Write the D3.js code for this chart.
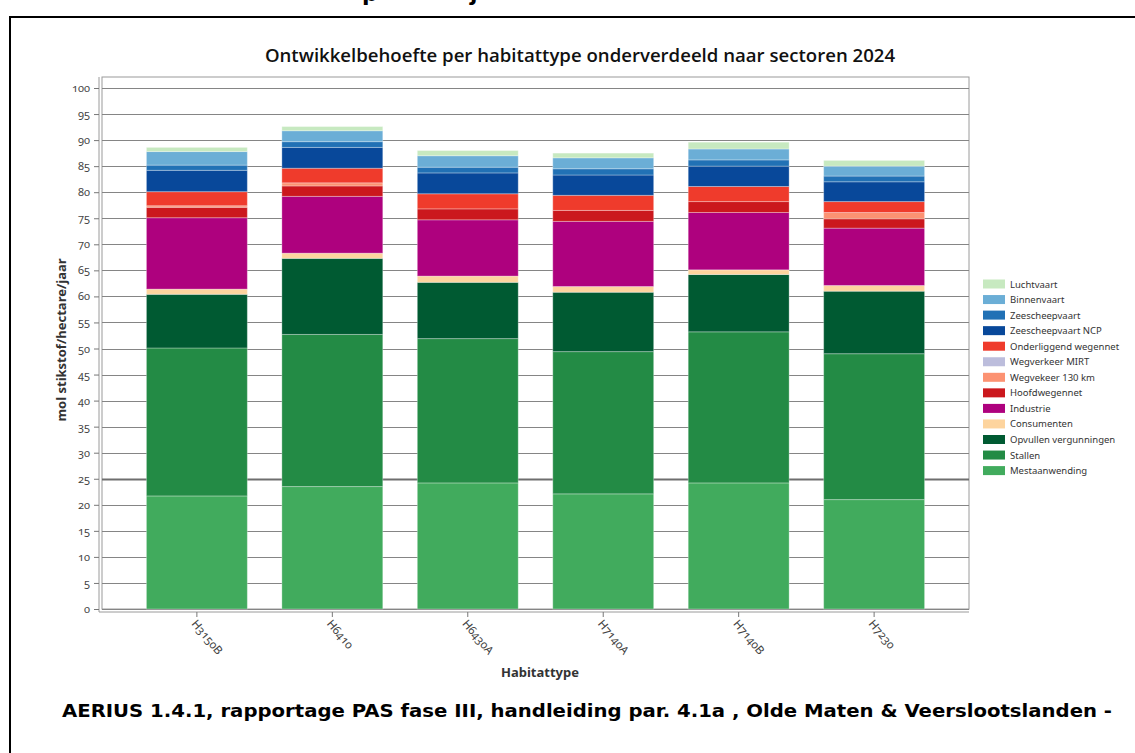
<!DOCTYPE html>
<html>
<head>
<meta charset="utf-8">
<script src="https://cdn.jsdelivr.net/npm/d3@7"></script>
<style>
  body { margin: 0; background: #fff; }
  svg { display: block; }
  .num { font-variant-numeric: oldstyle-nums; }
</style>
</head>
<body>
<svg id="chart" width="1135" height="753"></svg>
<script>
// Habitat types (x categories)
const categories = ["H3150B", "H6410", "H6430A", "H7140A", "H7140B", "H7230"];

// Deposition per sector, mol N/ha/yr, bottom of the stack first
const mestaanwending       = [21.7, 23.5, 24.2, 22.1, 24.2, 21.0];
const stallen              = [28.4, 29.2, 27.7, 27.3, 29.0, 28.0];
const opvullenVergunningen = [10.3, 14.6, 10.8, 11.4, 11.0, 12.0];
const consumenten          = [1.0, 1.0, 1.2, 1.1, 0.9, 1.1];
const industrie            = [13.7, 10.9, 10.8, 12.5, 11.0, 11.0];
const hoofdwegennet        = [2.0, 2.0, 2.1, 2.1, 2.1, 1.8];
const wegverkeer130        = [0.3, 0.6, 0.0, 0.0, 0.0, 1.2];
const wegverkeerMirt       = [0.0, 0.0, 0.0, 0.0, 0.0, 0.0];
const onderliggendWegennet = [2.7, 2.8, 2.9, 2.9, 2.9, 2.1];
const zeescheepvaartNcp    = [4.1, 4.0, 4.0, 3.9, 3.9, 3.8];
const zeescheepvaart       = [1.0, 1.1, 1.1, 1.2, 1.2, 1.1];
const binnenvaart          = [2.6, 2.1, 2.2, 2.1, 2.1, 1.9];
const luchtvaart           = [0.8, 0.8, 1.0, 0.9, 1.3, 1.1];

// Y axis tick values
const yTicks = [0, 5, 10, 15, 20, 25, 30, 35, 40, 45, 50, 55, 60, 65, 70, 75, 80, 85, 90, 95, 100];

const series = [
  { key: "Mestaanwending",        values: mestaanwending,       color: "#41ab5d" },
  { key: "Stallen",               values: stallen,              color: "#238b45" },
  { key: "Opvullen vergunningen", values: opvullenVergunningen, color: "#005a32" },
  { key: "Consumenten",           values: consumenten,          color: "#fdd49e" },
  { key: "Industrie",             values: industrie,            color: "#ae017e" },
  { key: "Hoofdwegennet",         values: hoofdwegennet,        color: "#cb181d" },
  { key: "Wegvekeer 130 km",      values: wegverkeer130,        color: "#fc9272" },
  { key: "Wegverkeer MIRT",       values: wegverkeerMirt,       color: "#bcbddc" },
  { key: "Onderliggend wegennet", values: onderliggendWegennet, color: "#ef3b2c" },
  { key: "Zeescheepvaart NCP",    values: zeescheepvaartNcp,    color: "#08489a" },
  { key: "Zeescheepvaart",        values: zeescheepvaart,       color: "#2171b5" },
  { key: "Binnenvaart",           values: binnenvaart,          color: "#6baed6" },
  { key: "Luchtvaart",            values: luchtvaart,           color: "#c7e9c0" }
];

const rows = categories.map((c, i) => {
  const r = { cat: c };
  series.forEach(s => { r[s.key] = s.values[i]; });
  return r;
});

const svg = d3.select("#chart");
const FONT = "'Noto Sans', 'Open Sans', sans-serif";

// Page frame
svg.append("line").attr("x1", 10).attr("x2", 1135).attr("y1", 17).attr("y2", 17)
  .attr("stroke", "#000").attr("stroke-width", 2);
svg.append("line").attr("x1", 10).attr("x2", 10).attr("y1", 16).attr("y2", 753)
  .attr("stroke", "#000").attr("stroke-width", 2);

// Descenders of the document heading above the frame
svg.append("text").attr("x", 362).attr("y", 1).text("p")
  .attr("font-family", "'DejaVu Sans', sans-serif").attr("font-weight", "bold").attr("font-size", 22);
svg.append("text").attr("x", 470).attr("y", 1).text("j")
  .attr("font-family", "'DejaVu Sans', sans-serif").attr("font-weight", "bold").attr("font-size", 22);

// Plot geometry
const plot = { left: 102, right: 969, top: 77, bottom: 609 };

const x = d3.scaleBand().domain(categories)
  .range([plot.left, plot.right]).paddingInner(0.255).paddingOuter(0.328);
const y = d3.scaleLinear().domain([0, 100]).range([plot.bottom, 88]);

// Chart title
svg.append("text").attr("x", 580).attr("y", 62).attr("text-anchor", "middle")
  .attr("font-family", "'Open Sans', sans-serif").attr("font-weight", 600).attr("font-size", 18.6)
  .attr("fill", "#111")
  .text("Ontwikkelbehoefte per habitattype onderverdeeld naar sectoren 2024");

// Plot box
svg.append("rect").attr("x", plot.left).attr("y", plot.top)
  .attr("width", plot.right - plot.left).attr("height", plot.bottom - plot.top)
  .attr("fill", "none").attr("stroke", "#9a9a9a").attr("stroke-width", 1);

// Horizontal gridlines
svg.append("g").selectAll("line").data(yTicks).join("line")
  .attr("x1", plot.left).attr("x2", plot.right)
  .attr("y1", d => Math.round(y(d)) + 0.5).attr("y2", d => Math.round(y(d)) + 0.5)
  .attr("stroke", d => d === 25 ? "#6e6e6e" : "#858585")
  .attr("stroke-width", d => d === 25 ? 2 : 1);

// Stacked bars
const stack = d3.stack().keys(series.map(s => s.key));
const stacked = stack(rows);
const colorOf = new Map(series.map(s => [s.key, s.color]));

svg.append("g").selectAll("g").data(stacked).join("g")
  .attr("fill", d => colorOf.get(d.key))
  .selectAll("rect").data(d => d).join("rect")
  .attr("x", d => x(d.data.cat))
  .attr("width", x.bandwidth())
  .attr("y", d => y(d[1]))
  .attr("height", d => Math.max(0, y(d[0]) - y(d[1])))
  .attr("stroke", "rgba(255,255,255,0.3)")
  .attr("stroke-width", d => (d[1] - d[0]) > 0 ? 1 : 0);

// Y axis
const yAxis = svg.append("g").attr("transform", `translate(${plot.left - 3},0)`)
  .call(d3.axisLeft(y).tickValues(yTicks).tickSize(5).tickPadding(4).tickSizeOuter(0));
yAxis.select(".domain").attr("stroke", "#9a9a9a").attr("d", `M0,${plot.top}V${plot.bottom + 3}`);
yAxis.selectAll(".tick line").attr("stroke", "#777");
yAxis.selectAll(".tick text").attr("class", "num")
  .attr("font-family", FONT).attr("font-size", 11).attr("fill", "#444");

// X axis
const xAxis = svg.append("g").attr("transform", `translate(0,${plot.bottom + 3})`)
  .call(d3.axisBottom(x).tickSize(5).tickSizeOuter(0));
xAxis.select(".domain").attr("stroke", "#9a9a9a").attr("d", `M${plot.left - 3},0H${plot.right}`);
xAxis.selectAll(".tick line").attr("stroke", "#777");
xAxis.selectAll(".tick text").attr("class", "num")
  .attr("font-family", FONT).attr("font-size", 11.5).attr("fill", "#444")
  .attr("text-anchor", "start").attr("dy", null).attr("y", 0)
  .attr("transform", "translate(-6,12) rotate(50)");

// Axis titles
svg.append("text").attr("x", 540).attr("y", 677).attr("text-anchor", "middle")
  .attr("font-family", FONT).attr("font-weight", "bold").attr("font-size", 13).attr("fill", "#333")
  .text("Habitattype");
svg.append("text").attr("transform", "translate(66,340) rotate(-90)").attr("text-anchor", "middle")
  .attr("font-family", FONT).attr("font-weight", "bold").attr("font-size", 13).attr("fill", "#333")
  .text("mol stikstof/hectare/jaar");

// Legend, top of stack listed first
const legend = svg.append("g").attr("transform", "translate(983,284)");
const legendItems = series.slice().reverse();
const li = legend.selectAll("g").data(legendItems).join("g")
  .attr("transform", (d, i) => `translate(0,${i * 15.55})`);
li.append("rect").attr("x", 0).attr("y", -4.5).attr("width", 22).attr("height", 9)
  .attr("fill", d => d.color);
li.append("text").attr("x", 27).attr("y", 3.5)
  .attr("font-family", FONT).attr("font-size", 9.5).attr("fill", "#333")
  .text(d => d.key);

// Footer note
svg.append("text").attr("x", 62).attr("y", 717)
  .attr("font-family", "'DejaVu Sans', Verdana, sans-serif").attr("font-weight", "bold").attr("font-size", 18)
  .attr("fill", "#000")
  .attr("textLength", 1050).attr("lengthAdjust", "spacingAndGlyphs")
  .text("AERIUS 1.4.1, rapportage PAS fase III,  handleiding par. 4.1a , Olde Maten & Veerslootslanden -");
</script>
</body>
</html>
